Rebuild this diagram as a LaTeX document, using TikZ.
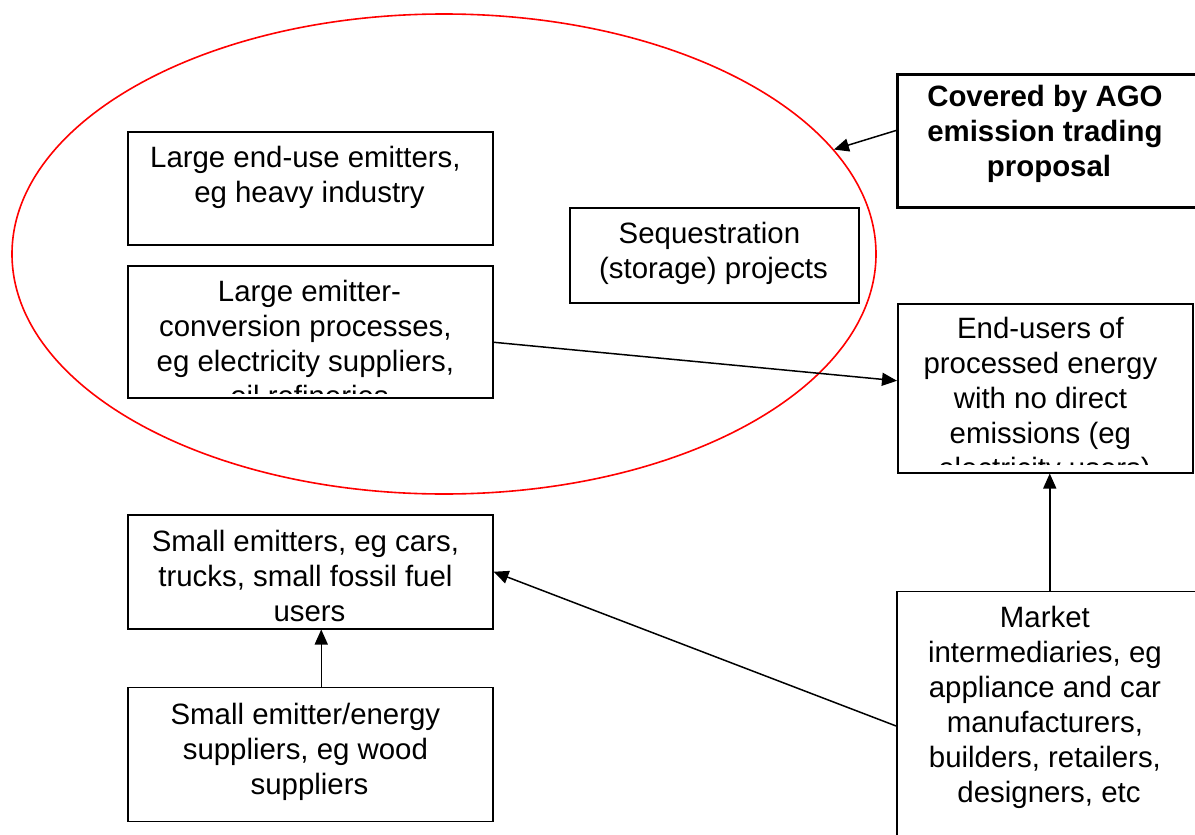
\documentclass[tikz,border=0pt]{standalone}
\usepackage{fontspec}
\setmainfont{Liberation Sans}
\usetikzlibrary{arrows.meta,calc,shapes.geometric}
\newcommand\tsp{\hbox to 0.278em{}}
\newcommand\st{\rule{0pt}{27bp}}
\begin{document}
\begin{tikzpicture}[x=1bp,y=-1bp,
  box/.style={draw, line width=1.5bp, inner sep=0pt, anchor=north west},
  txt/.style={font=\fontsize{29.4bp}{35bp}\selectfont, align=center, inner sep=0pt, anchor=north},
  btxt/.style={txt, font=\fontsize{29.4bp}{35bp}\selectfont\bfseries},
  arr/.style={-{Triangle[length=15bp,width=13bp]}, line width=1.5bp}]
\useasboundingbox (0,0) rectangle (1195,835);
% ellipse
\node[draw=red, line width=1.6bp, ellipse, minimum width=864bp, minimum height=480bp, inner sep=0pt] (ell) at (444,254) {};
% boxes
\node[box, minimum width=365bp, minimum height=113bp] (b1) at (127,131) {};
\node[box, minimum width=365bp, minimum height=132bp] (b2) at (127,265) {};
\node[box, minimum width=289bp, minimum height=95bp] (seq) at (569,207) {};
\node[box, line width=3bp, minimum width=306bp, minimum height=133bp] (ago) at (896,72.5) {};
\node[box, minimum width=295bp, minimum height=169bp] (eu) at (897,303) {};
\node[box, minimum width=365bp, minimum height=114bp] (se) at (127,514) {};
\node[box, minimum width=365bp, minimum height=134bp] (ses) at (127,686.7) {};
\node[box, minimum width=306bp, minimum height=260bp] (mk) at (896,590.7) {};
% texts
\node[txt] (t1) at (309.5,140) {\st Large end-use emitters,\tsp\\eg heavy industry};
\begin{scope}
\clip (127,265) rectangle (492,393.5);
\node[txt] (t2) at (309.5,274.7) {\st Large emitter-\\conversion processes,\tsp\\eg electricity suppliers,\tsp\\oil refineries};
\end{scope}
\node[txt] (t3) at (713.5,216) {\st Sequestration\tsp\\(storage) projects};
\node[btxt] (t4) at (1049,79) {\st Covered by AGO\tsp\\emission trading\tsp\\proposal};
\begin{scope}
\clip (897,303) rectangle (1192,464);
\node[txt] (t5) at (1044.5,311.5) {\st End-users of\tsp\\processed energy\tsp\\with no direct\tsp\\emissions (eg\tsp\\electricity users)};
\end{scope}
\node[txt] (t6) at (309.5,524) {\st Small emitters, eg cars,\tsp\\trucks, small fossil fuel\tsp\\users};
\node[txt] (t7) at (309.5,697.5) {\st Small emitter/energy\tsp\\suppliers, eg wood\tsp\\suppliers};
\node[txt] (t8) at (1049,600.5) {\st Market\tsp\\intermediaries, eg\tsp\\appliance and car\tsp\\manufacturers,\tsp\\builders, retailers,\tsp\\designers, etc};
% connectors
\draw[arr] ([yshift=-10.5bp]b2.east) -- ([yshift=7.5bp]eu.west);
\draw[arr] ([yshift=10bp]ago.west) -- (ell.15);
\draw[arr] (mk.north) -- (mk.north |- eu.south);
\draw[arr] ([xshift=11bp]ses.north) -- ([xshift=11bp]se.south);
\draw[arr] ([yshift=-4.5bp]mk.west) -- (se.east);
\end{tikzpicture}
\end{document}
